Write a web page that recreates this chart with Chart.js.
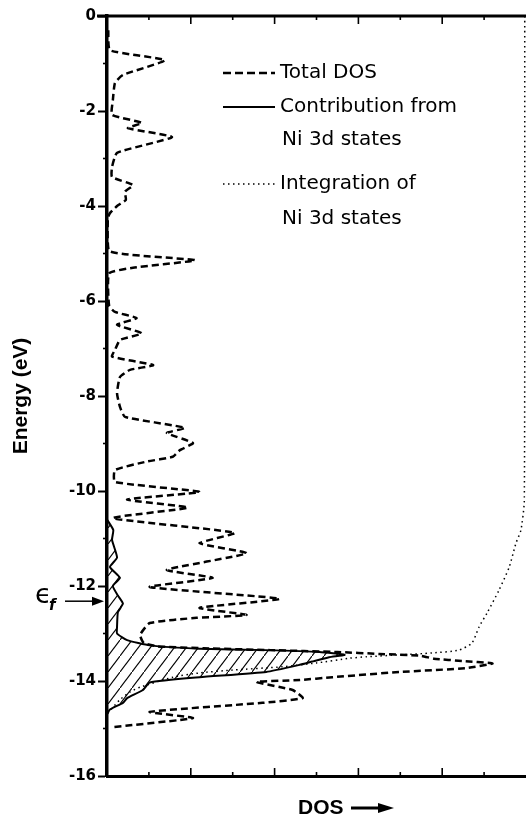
<!DOCTYPE html>
<html>
<head>
<meta charset="utf-8">
<script src="https://cdn.jsdelivr.net/npm/chart.js@4.4.1/dist/chart.umd.min.js"></script>
<style>
  html, body { margin: 0; padding: 0; background: #fff; }
  #wrap { width: 526px; height: 816px; position: relative; }
</style>
</head>
<body>
<div id="wrap"><canvas id="c"></canvas></div>
<script>
// ---- Data ----
// Energy (eV) and total density of states (arbitrary units)
const totalE = [-0.30,-0.72,-0.93,-1.24,-1.41,-1.77,-2.08,-2.25,-2.36,-2.55,-2.88,-3.18,-3.39,-3.56,-3.70,-3.87,-4.00,-4.15,-4.25,-4.95,-5.14,-5.30,-5.42,-6.10,-6.23,-6.36,-6.50,-6.68,-6.82,-7.03,-7.17,-7.35,-7.45,-7.60,-7.94,-8.23,-8.44,-8.67,-8.78,-8.99,-9.14,-9.28,-9.38,-9.56,-9.81,-10.02,-10.18,-10.35,-10.57,-10.88,-11.10,-11.31,-11.66,-11.83,-12.02,-12.27,-12.46,-12.61,-12.67,-12.78,-13.03,-13.20,-13.27,-13.31,-13.35,-13.39,-13.43,-13.47,-13.53,-13.58,-13.63,-13.73,-13.81,-13.92,-13.98,-14.02,-14.19,-14.36,-14.46,-14.65,-14.78,-14.97];
const totalDOS = [0.03,0.07,1.38,0.38,0.19,0.14,0.12,0.83,0.50,1.55,0.24,0.12,0.12,0.62,0.43,0.45,0.24,0.07,0.02,0.05,2.10,0.62,0.05,0.05,0.19,0.71,0.24,0.83,0.31,0.19,0.12,1.10,0.55,0.31,0.24,0.31,0.43,1.86,1.43,2.05,1.74,1.57,0.95,0.19,0.19,2.21,0.48,1.93,0.14,3.05,2.21,3.33,1.43,2.52,1.02,4.12,2.21,3.33,2.14,1.02,0.79,0.88,1.20,2.30,3.90,5.50,6.50,7.50,7.80,8.50,9.20,8.57,6.98,5.38,4.60,3.57,4.43,4.67,3.71,1.02,2.05,0.14];

// Contribution from Ni 3d states
const ni3dE = [-10.60,-10.82,-11.03,-11.40,-11.60,-11.83,-12.00,-12.20,-12.37,-12.55,-12.85,-13.00,-13.14,-13.25,-13.32,-13.35,-13.39,-13.45,-13.50,-13.59,-13.66,-13.81,-13.92,-14.03,-14.19,-14.36,-14.46,-14.60,-14.70];
const ni3dDOS = [0.00,0.15,0.12,0.24,0.07,0.31,0.14,0.26,0.38,0.26,0.24,0.24,0.48,1.02,2.21,3.80,5.07,5.67,5.30,4.90,4.60,3.80,2.21,1.02,0.86,0.48,0.38,0.07,0.00];

// Integration of Ni 3d states
const intE = [0.00,-10.20,-10.82,-11.10,-11.60,-12.08,-12.57,-12.86,-13.20,-13.35,-13.41,-13.45,-13.49,-13.52,-13.62,-13.70,-13.77,-13.83,-13.92,-14.13,-14.23,-14.40,-14.70];
const intNi3d = [9.97,9.96,9.88,9.76,9.60,9.36,9.07,8.88,8.71,8.40,7.76,6.98,6.19,5.79,5.00,4.19,3.00,2.21,1.57,0.79,0.55,0.30,0.00];

// Axis ticks
const yTickLabels = [0,-2,-4,-6,-8,-10,-12,-14,-16];
const yMinorTicks = [-1,-3,-5,-7,-9,-11,-13,-15];
const xTicks = [1,2,3,4,5,6,7,8,9];
const fermiEnergy = -12.32;

const legendItems = [
  { lines: ['Total DOS'], style: 'dashed' },
  { lines: ['Contribution from', 'Ni 3d states'], style: 'solid' },
  { lines: ['Integration of', 'Ni 3d states'], style: 'dotted' }
];

// ---- helpers ----
function pts(ys, xs) { return ys.map((e, i) => ({ x: xs[i], y: e })); }

function hatchPattern() {
  const w = 12, h = 16;
  const c = document.createElement('canvas');
  c.width = w; c.height = h;
  const g = c.getContext('2d');
  g.strokeStyle = '#000';
  g.lineWidth = 1.1;
  g.beginPath();
  g.moveTo(-w, 2 * h); g.lineTo(2 * w, -h);
  g.stroke();
  return g.createPattern(c, 'repeat');
}

const decor = {
  id: 'decor',
  afterDraw(chart) {
    const { ctx, chartArea: a, scales: { x, y } } = chart;
    ctx.save();
    ctx.strokeStyle = '#000';
    ctx.fillStyle = '#000';
    // top frame line
    ctx.lineWidth = 3;
    ctx.beginPath();
    ctx.moveTo(a.left - 10, a.top);
    ctx.lineTo(a.right, a.top);
    ctx.stroke();
    // x ticks (inward, top and bottom)
    ctx.lineWidth = 1.6;
    xTicks.forEach(v => {
      const px = x.getPixelForValue(v);
      const len = v % 2 === 0 ? 8 : 4;
      ctx.beginPath();
      ctx.moveTo(px, a.top); ctx.lineTo(px, a.top + len);
      ctx.moveTo(px, a.bottom); ctx.lineTo(px, a.bottom - len);
      ctx.stroke();
    });
    // y minor ticks
    yMinorTicks.forEach(v => {
      const py = y.getPixelForValue(v);
      ctx.beginPath();
      ctx.moveTo(a.left - 4, py); ctx.lineTo(a.left, py);
      ctx.stroke();
    });

    // legend
    const lx0 = 223, lx1 = 275, tx = 280;
    const rows = [[73], [107, 140], [184, 219]];
    ctx.font = '20px "DejaVu Sans"';
    ctx.textBaseline = 'middle';
    ctx.textAlign = 'left';
    legendItems.forEach((it, i) => {
      const yy = rows[i][0];
      ctx.beginPath();
      if (it.style === 'dashed') { ctx.setLineDash([8, 4]); ctx.lineWidth = 2.5; }
      else if (it.style === 'solid') { ctx.setLineDash([]); ctx.lineWidth = 2; }
      else { ctx.setLineDash([1.5, 3.5]); ctx.lineWidth = 1.5; }
      ctx.moveTo(lx0, yy); ctx.lineTo(lx1, yy);
      ctx.stroke();
      ctx.setLineDash([]);
      it.lines.forEach((t, j) => {
        ctx.fillText(t, tx + (j > 0 ? 2 : 0), rows[i][j]);
      });
    });

    // Fermi level marker
    const fy = y.getPixelForValue(fermiEnergy);
    ctx.font = '27px "DejaVu Sans"';
    ctx.textBaseline = 'alphabetic';
    ctx.fillText('\u03F5', 35, fy + 2);
    ctx.font = 'italic bold 15px "DejaVu Sans"';
    ctx.fillText('f', 49, fy + 9);
    ctx.lineWidth = 1.5;
    ctx.beginPath();
    ctx.moveTo(65, fy); ctx.lineTo(95, fy);
    ctx.stroke();
    ctx.beginPath();
    ctx.moveTo(a.left - 3, fy); ctx.lineTo(92, fy - 4.5); ctx.lineTo(92, fy + 4.5); ctx.closePath();
    ctx.fill();

    // x axis label "DOS ->"
    ctx.font = 'bold 21px "Liberation Sans"';
    ctx.textBaseline = 'middle';
    ctx.fillText('DOS', 298, 808);
    ctx.lineWidth = 3;
    ctx.beginPath();
    ctx.moveTo(351, 808); ctx.lineTo(382, 808);
    ctx.stroke();
    ctx.beginPath();
    ctx.moveTo(394, 808); ctx.lineTo(378, 803); ctx.lineTo(378, 813); ctx.closePath();
    ctx.fill();
    ctx.restore();
  }
};

const ctxEl = document.getElementById('c');
new Chart(ctxEl, {
  type: 'line',
  data: {
    datasets: [
      {
        label: 'Contribution from Ni 3d states',
        data: pts(ni3dE, ni3dDOS),
        borderColor: '#000',
        borderWidth: 2,
        pointRadius: 0,
        tension: 0.15,
        fill: 'origin',
        backgroundColor: hatchPattern(),
        order: 3
      },
      {
        label: 'Integration of Ni 3d states',
        data: pts(intE, intNi3d),
        borderColor: '#000',
        borderWidth: 1.5,
        borderDash: [1.5, 3.5],
        pointRadius: 0,
        tension: 0.2,
        fill: false,
        order: 2
      },
      {
        label: 'Total DOS',
        data: pts(totalE, totalDOS),
        borderColor: '#000',
        borderWidth: 2.5,
        borderDash: [7, 4],
        pointRadius: 0,
        tension: 0.15,
        fill: false,
        order: 1
      }
    ]
  },
  options: {
    indexAxis: 'y',
    responsive: true,
    maintainAspectRatio: false,
    animation: false,
    layout: { padding: { top: 16, right: 0, bottom: 0, left: 0 } },
    plugins: { legend: { display: false }, tooltip: { enabled: false } },
    scales: {
      x: {
        type: 'linear',
        position: 'bottom',
        min: 0, max: 10,
        ticks: { display: false },
        grid: { display: false },
        border: { display: true, width: 3, color: '#000' },
        afterFit: s => { s.height = 40; }
      },
      y: {
        type: 'linear',
        position: 'left',
        min: -16, max: 0,
        afterBuildTicks: s => { s.ticks = yTickLabels.map(v => ({ value: v })); },
        ticks: {
          color: '#000',
          padding: 2,
          font: { family: '"DejaVu Sans"', weight: 'bold', size: 15 },
          callback: v => String(v)
        },
        grid: { display: true, drawOnChartArea: false, drawTicks: true, tickLength: 9, tickWidth: 2, tickColor: '#000' },
        border: { display: true, width: 3.5, color: '#000' },
        title: {
          display: true,
          text: 'Energy (eV)',
          color: '#000',
          font: { family: '"Liberation Sans"', weight: 'bold', size: 21 },
          padding: { top: 9, bottom: 0 }
        },
        afterFit: s => { s.width = 107; }
      }
    }
  },
  plugins: [decor]
});
</script>
</body>
</html>
